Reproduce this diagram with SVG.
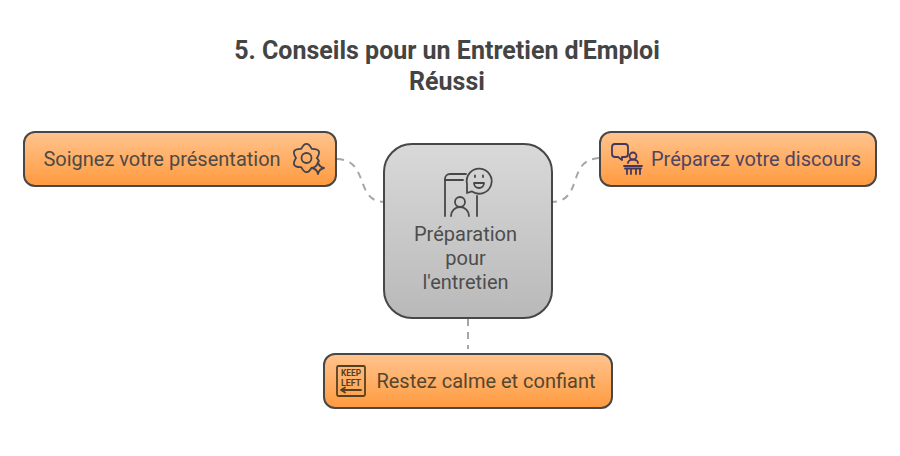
<svg xmlns="http://www.w3.org/2000/svg" width="900" height="456" viewBox="0 0 900 456">
<defs>
<linearGradient id="o" x1="0" y1="0" x2="0" y2="1"><stop offset="0" stop-color="#ffc48f"/><stop offset="1" stop-color="#ff9a3e"/></linearGradient>
<linearGradient id="g" x1="0" y1="0" x2="0" y2="1"><stop offset="0" stop-color="#d9d9d9"/><stop offset="1" stop-color="#b9b9b9"/></linearGradient>
</defs>
<style>
text{font-family:Roboto,"Liberation Sans",sans-serif;font-size:20px;text-anchor:middle}
.t{font-size:25px;font-weight:700;fill:#444}
.box{stroke:#474747;stroke-width:2}
.c{fill:none;stroke:#a6a6a6;stroke-width:2;stroke-dasharray:7 6}
.i{fill:none;stroke-width:1.800;stroke-linecap:round;stroke-linejoin:round}
.k{font-size:8.800px;font-weight:700;fill:#55401f}
</style>
<rect width="900" height="456" fill="#fff"/>
<g id="title"><text class="t" x="447" y="59">5. Conseils pour un Entretien d'Emploi</text><text class="t" x="447" y="90">Réussi</text></g>
<g id="connectors">
<path class="c" d="M337 159C370 160 354 201 384 202"/>
<path class="c" d="M599 158C566 160 584 201 552 202"/>
<path class="c" d="M468 319V349"/>
</g>
<g id="center">
<rect class="box" x="384" y="144" width="168" height="174" rx="28" fill="url(#g)"/>
<g class="i" stroke="#474747">
<path d="M445 216V179a5 5 0 0 1 5-5H466"/><path d="M445 180H463"/><path d="M477 196V216"/>
<path d="M467 184V193L472 191.400A12.500 12.500 0 1 0 467 184Z"/>
<path d="M475 175.500v1.500M483 175.500v1.500"/><path d="M474 183a5 5 0 0 0 10 0Z"/>
<circle cx="460" cy="202" r="5"/><path d="M451 216a9 9 0 0 1 18 0"/>
</g>
<text x="465.500" y="241" fill="#4d4d4d">Préparation</text><text x="465.500" y="265" fill="#4d4d4d">pour</text><text x="465.500" y="289" fill="#4d4d4d">l'entretien</text>
</g>
<g id="left">
<rect class="box" x="24" y="132" width="312" height="54" rx="11" fill="url(#o)"/>
<text x="162" y="166" fill="#4e4a45">Soignez votre présentation</text>
<g class="i" stroke="#43434e">
<path d="M317 158Q323 148.500 311.750 148.900Q306.500 139 301.250 148.900Q290 148.500 296 158Q290 167.500 301.250 167.100Q306.500 177 311.500 167.800"/>
<path d="M317 158L319 161"/>
<circle cx="306.500" cy="158" r="5"/>
<path d="M318 162q1 5 6 6q-5 1-6 6q-1-5-6-6q5-1 6-6Z"/>
</g>
</g>
<g id="right">
<rect class="box" x="600" y="132" width="276" height="54" rx="11" fill="url(#o)"/>
<text x="756" y="166" fill="#4f4560">Préparez votre discours</text>
<g class="i" stroke="#43385c">
<path d="M615 144h10a3 3 0 0 1 3 3v7a3 3 0 0 1-3 3h-3v3l-4-3h-3a3 3 0 0 1-3-3v-7a3 3 0 0 1 3-3Z"/>
<circle cx="633" cy="156" r="3.500"/><path d="M628 163a5 3.500 0 0 1 10 0"/>
<path d="M624 166H642M625 168.500H641M627 168.500V174M640 168.500V174M631 170V174M636 170V174"/>
</g>
</g>
<g id="bottom">
<rect class="box" x="324" y="354" width="288" height="54" rx="11" fill="url(#o)"/>
<text x="486" y="388" fill="#55462e">Restez calme et confiant</text>
<g class="i" stroke="#55401f">
<rect x="337" y="366" width="28" height="30" rx="1.500"/>
<path d="M341 390H361M341 390l4-2.500M341 390l4 2.500"/>
</g>
<text class="k" x="351" y="375.500" textLength="20" lengthAdjust="spacingAndGlyphs">KEEP</text>
<text class="k" x="351" y="386" textLength="20" lengthAdjust="spacingAndGlyphs">LEFT</text>
</g>
</svg>
